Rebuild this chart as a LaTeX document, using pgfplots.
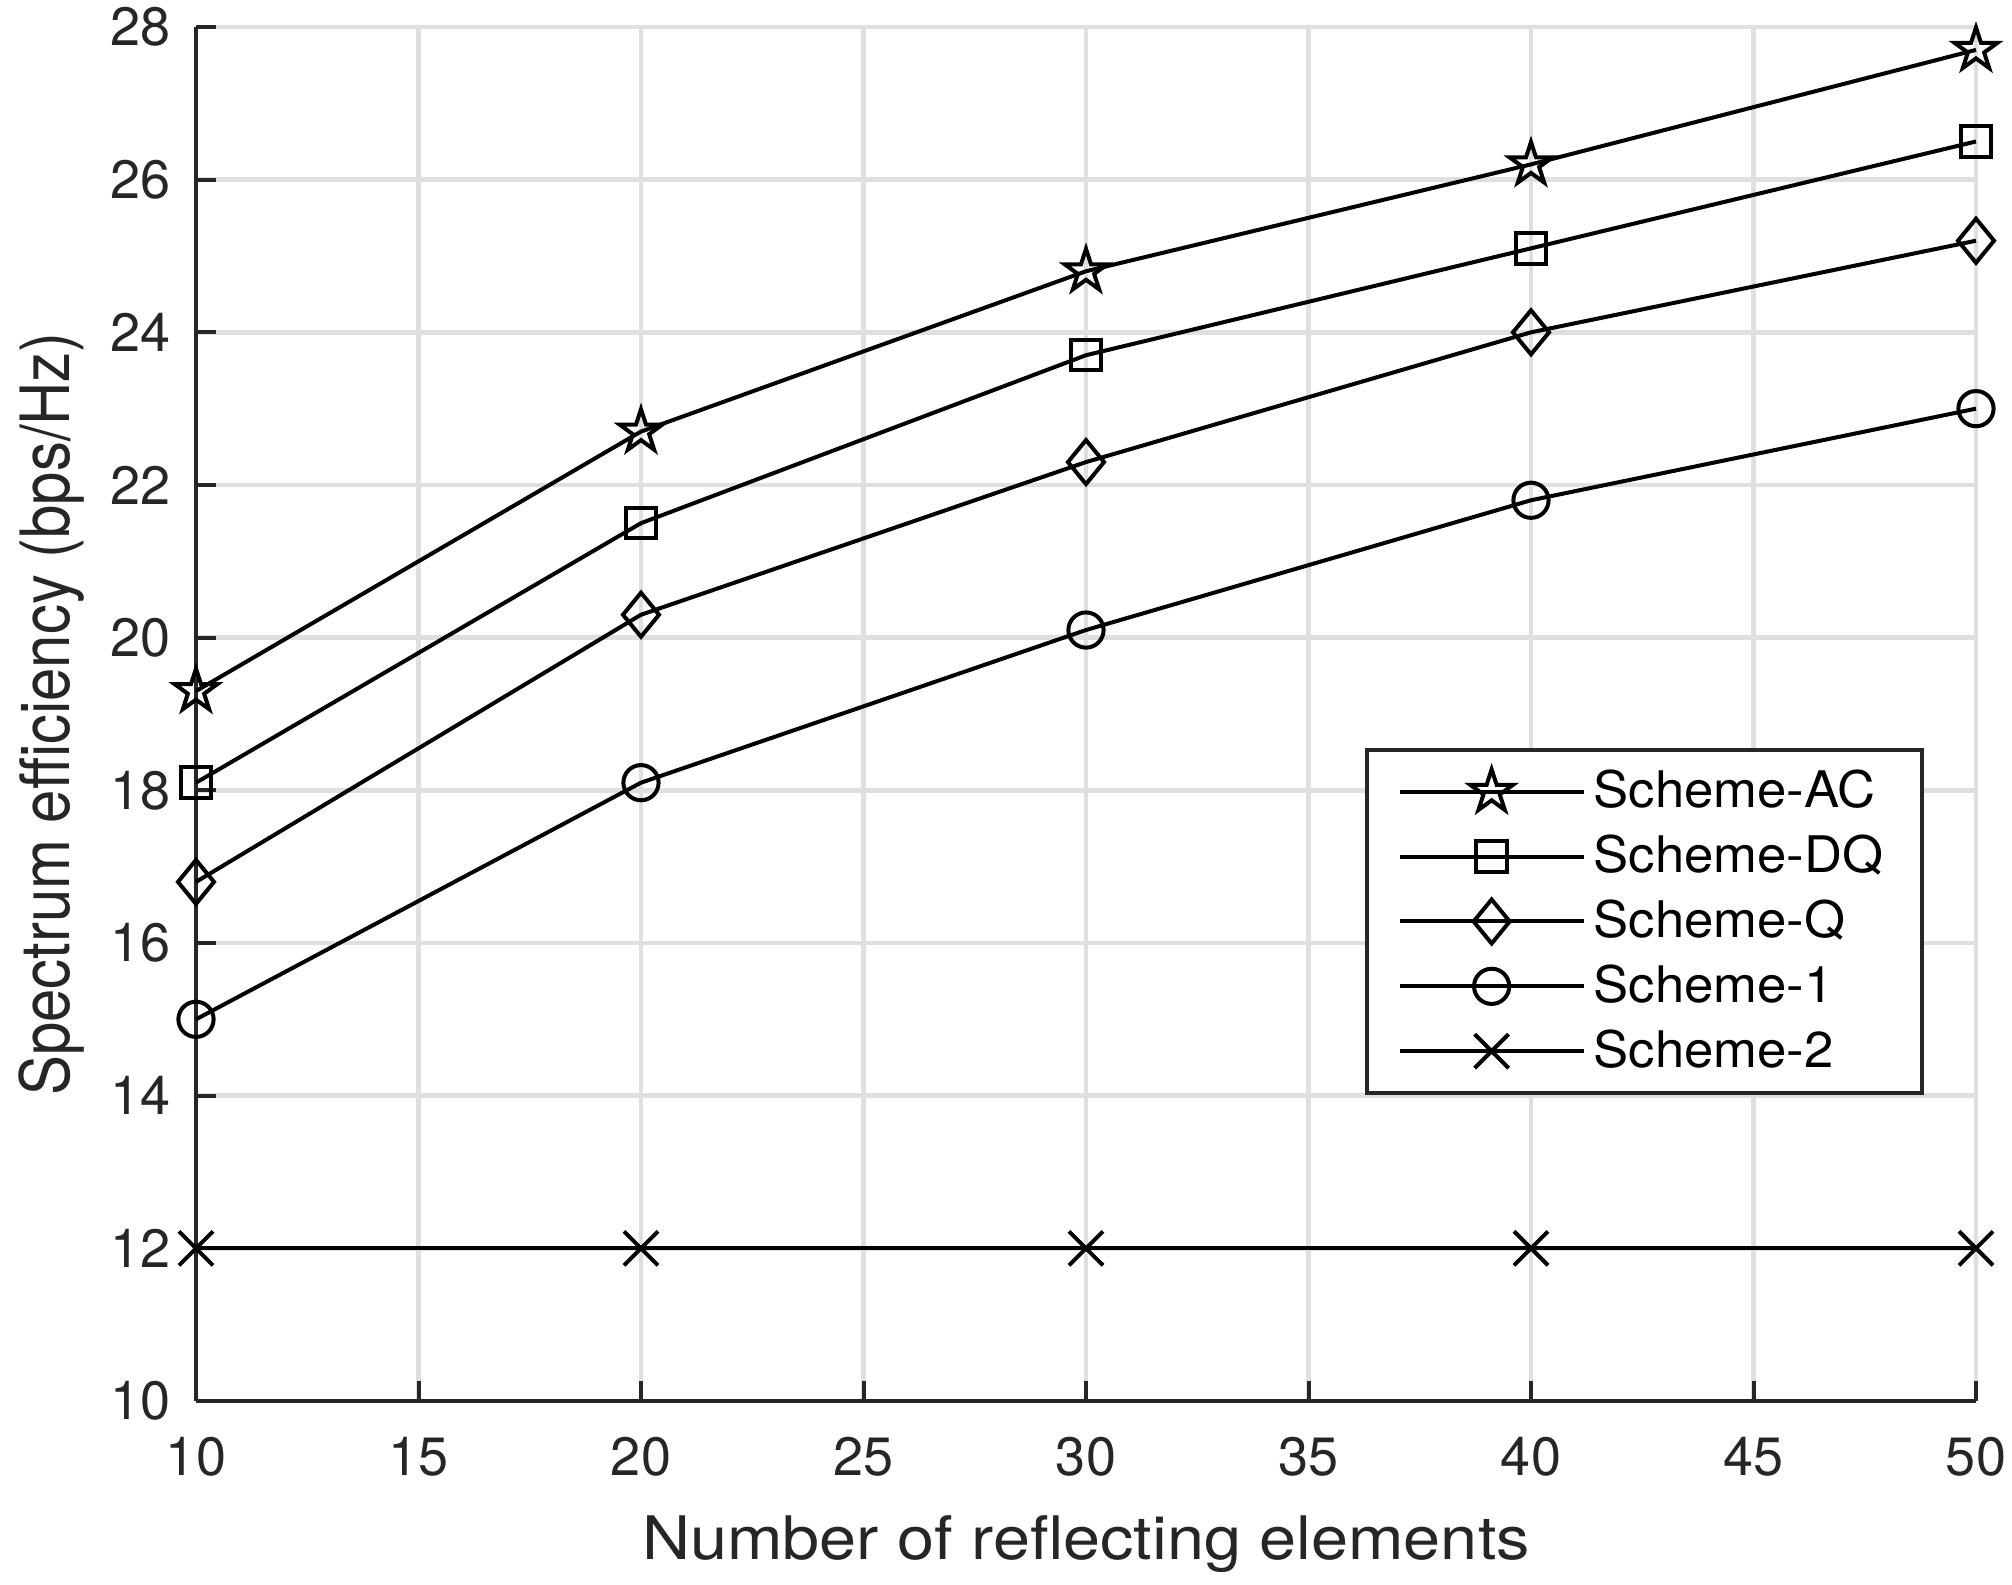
\documentclass[border=0pt]{standalone}
\usepackage{fontspec}
\setmainfont{TeX Gyre Heros}
\newfontfamily\xlabfont{TeX Gyre Heros}[FakeStretch=1.11]
\newfontfamily\ylabfont{TeX Gyre Heros}[FakeStretch=0.88]
\newfontfamily\legfont{TeX Gyre Heros}[FakeStretch=1.045]
\usepackage{pgfplots}
\pgfplotsset{compat=1.18}
\definecolor{axgray}{HTML}{262626}
\definecolor{gridgray}{HTML}{DFDFDF}
\pgfdeclareplotmark{fivestar}{%
  \pgfpathmoveto{\pgfqpointpolar{90}{\pgfplotmarksize}}%
  \pgfpathlineto{\pgfqpointpolar{126}{0.382\pgfplotmarksize}}%
  \pgfpathlineto{\pgfqpointpolar{162}{\pgfplotmarksize}}%
  \pgfpathlineto{\pgfqpointpolar{198}{0.382\pgfplotmarksize}}%
  \pgfpathlineto{\pgfqpointpolar{234}{\pgfplotmarksize}}%
  \pgfpathlineto{\pgfqpointpolar{270}{0.382\pgfplotmarksize}}%
  \pgfpathlineto{\pgfqpointpolar{306}{\pgfplotmarksize}}%
  \pgfpathlineto{\pgfqpointpolar{342}{0.382\pgfplotmarksize}}%
  \pgfpathlineto{\pgfqpointpolar{18}{\pgfplotmarksize}}%
  \pgfpathlineto{\pgfqpointpolar{54}{0.382\pgfplotmarksize}}%
  \pgfpathclose
  \pgfusepathqstroke
}
\pgfdeclareplotmark{mdiamond}{%
  \pgfpathmoveto{\pgfqpoint{0pt}{\pgfplotmarksize}}%
  \pgfpathlineto{\pgfqpoint{.82\pgfplotmarksize}{0pt}}%
  \pgfpathlineto{\pgfqpoint{0pt}{-\pgfplotmarksize}}%
  \pgfpathlineto{\pgfqpoint{-.82\pgfplotmarksize}{0pt}}%
  \pgfpathclose
  \pgfusepathqstroke
}
\begin{document}
\begin{tikzpicture}
\path[use as bounding box] (-49pt,-45.75pt) rectangle (454pt,350.25pt);
\begin{axis}[
  at={(0,0)}, anchor=origin,
  scale only axis,
  width=445pt, height=343.5pt,
  xmin=10, xmax=50, ymin=10, ymax=28,
  xtick={10,15,...,50}, ytick={10,12,...,28},
  axis lines*=left,
  axis line style={axgray, line width=1pt, -},
  tick style={axgray, line width=1pt},
  tick align=inside,
  major tick length=5pt,
  grid=major,
  major grid style={gridgray, line width=1.2pt},
  /pgf/number format/assume math mode=true,
  ticklabel style={font=\fontsize{13.5}{15}\selectfont, text=axgray},
  xticklabel style={anchor=north, yshift=-5.5pt},
  yticklabel style={anchor=east, xshift=-2.75pt},
  xlabel={Number of reflecting elements},
  ylabel={Spectrum efficiency (bps/Hz)},
  label style={text=axgray},
  xlabel style={font=\xlabfont\fontsize{15}{18}\selectfont, at={(axis description cs:0.5,-0.1157)}, anchor=base},
  ylabel style={font=\ylabfont\fontsize{17}{19}\selectfont, at={(axis description cs:-0.0711,0.5)}, anchor=base},
  legend style={at={(rel axis cs:0.971,0.2227)}, anchor=south east,
    draw=axgray, line width=1pt, font=\legfont\fontsize{12.6}{15}\selectfont,
    row sep=1.3pt, inner xsep=7.75pt, inner ysep=3pt},
  legend cell align=left,
  legend image code/.code={\draw[mark repeat=2,mark phase=2] plot coordinates {(0pt,0pt) (23pt,0pt) (46pt,0pt)};},
  every axis plot/.append style={black, line width=1pt, mark options={solid}},
  clip=false,
]
\addplot[mark=fivestar, mark size=5.6pt] coordinates {(10,19.3) (20,22.7) (30,24.8) (40,26.2) (50,27.7)};
\addlegendentry{Scheme-AC}
\addplot[mark=square, mark size=3.8pt] coordinates {(10,18.1) (20,21.5) (30,23.7) (40,25.1) (50,26.5)};
\addlegendentry{Scheme-DQ}
\addplot[mark=mdiamond, mark size=5.5pt] coordinates {(10,16.8) (20,20.3) (30,22.3) (40,24.0) (50,25.2)};
\addlegendentry{Scheme-Q}
\addplot[mark=o, mark size=4.4pt] coordinates {(10,15.0) (20,18.1) (30,20.1) (40,21.8) (50,23.0)};
\addlegendentry{Scheme-1}
\addplot[mark=x, mark size=6pt] coordinates {(10,12) (20,12) (30,12) (40,12) (50,12)};
\addlegendentry{Scheme-2}
\end{axis}
\end{tikzpicture}
\end{document}
